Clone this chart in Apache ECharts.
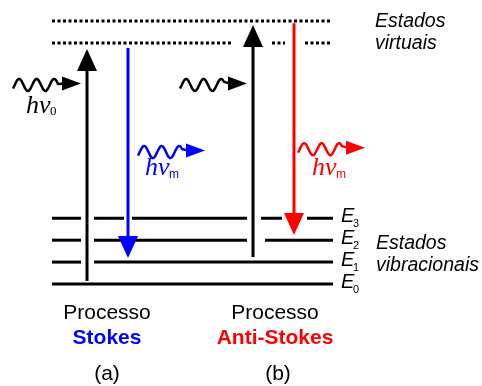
<!DOCTYPE html>
<html><head><meta charset="utf-8">
<script src="https://cdn.jsdelivr.net/npm/echarts@6/dist/echarts.min.js"></script>
<style>html,body{margin:0;padding:0;background:#fff}#c{width:482px;height:386px}</style>
</head><body><div id="c"></div>
<script>
// Vibrational levels (energy in units of the vibrational quantum)
const vibLevels = [0, 1, 2, 3];
const vibSubscripts = ['0', '1', '2', '3'];
// Virtual states
const virtualLevels = [11, 12];
// x-extents of each level line (diagram units), broken where arrows cross
const vibSegments = [
  [[52, 333]],
  [[52, 81], [94, 333]],
  [[52, 81], [94, 247], [265, 333]],
  [[52, 81], [94, 124], [132, 247], [261, 282], [307, 333]]
];
const virtualSegments = [
  [[52, 232], [272, 285], [305, 330]],
  [[52, 330]]
];
// Vertical transitions: x position, start energy, end energy
const transX = [87, 128, 253, 294];
const transFrom = [0.14, 10.77, 1.23, 11.9];
const transTo = [10.72, 1.19, 11.82, 2.24];
// Photons (wavy arrows): start x, end x, energy height
const photonX0 = [13, 180, 138, 298];
const photonX1 = [81, 247, 205, 365];
const photonE = [9.15, 9.15, 6.09, 6.22];

const BLUE = '#0000ff', RED = '#ff0000', BLACK = '#000000';
const transColor = [BLACK, BLUE, BLACK, RED];
const photonColor = [BLACK, BLACK, BLUE, RED];

const chart = echarts.init(document.getElementById('c'), null, {renderer: 'canvas'});

function levelRender(segs, dash) {
  return function (params, api) {
    const e = api.value(1);
    const children = segs[params.dataIndex].map(function (s) {
      const a = api.coord([s[0], e]), b = api.coord([s[1], e]);
      return {type: 'line', shape: {x1: a[0], y1: a[1], x2: b[0], y2: b[1]},
        style: {stroke: BLACK, lineWidth: 3, lineDash: dash, lineCap: 'butt'}};
    });
    return {type: 'group', children: children};
  };
}

function arrowRender(params, api) {
  const x = api.value(0), e0 = api.value(1), e1 = api.value(2);
  const p0 = api.coord([x, e0]), p1 = api.coord([x, e1]);
  const dir = Math.sign(p1[1] - p0[1]);
  const hl = 22, hw = 10;
  const base = p1[1] - dir * hl;
  const col = transColor[params.dataIndex];
  return {type: 'group', children: [
    {type: 'line', shape: {x1: p0[0], y1: p0[1], x2: p0[0], y2: base + dir * 2},
      style: {stroke: col, lineWidth: 3}},
    {type: 'polygon', shape: {points: [[p1[0], p1[1]], [p1[0] - hw, base], [p1[0] + hw, base]]},
      style: {fill: col}}
  ]};
}

function photonRender(params, api) {
  const x0 = api.value(0), x1 = api.value(1), e = api.value(2);
  const a = api.coord([x0, e]), b = api.coord([x1, e]);
  const col = photonColor[params.dataIndex];
  const A = 6, P = 17.5, phase = 0.1, hl = 19, hh = 7;
  const baseX = b[0] - hl;
  const cy = a[1] + 1.5;
  const waveLen = baseX - a[0] - 4;
  const pts = [];
  for (let t = 0; t <= waveLen; t += 0.5) {
    pts.push([a[0] + t, cy - A * Math.sin(2 * Math.PI * (t / P - phase))]);
  }
  pts.push([baseX + 3, b[1]]);
  return {type: 'group', children: [
    {type: 'polyline', shape: {points: pts, smooth: 0.3}, style: {stroke: col, lineWidth: 2.5, fill: null, lineJoin: 'round'}},
    {type: 'polygon', shape: {points: [[b[0], b[1]], [baseX, b[1] - hh], [baseX, b[1] + hh]]},
      style: {fill: col}}
  ]};
}

function vibLabelRender(params, api) {
  const e = api.value(1);
  const p = api.coord([341, e]);
  return {type: 'group', children: [
    {type: 'text', x: p[0], y: p[1] - 2, style: {text: 'E', fontFamily: 'Liberation Sans', fontStyle: 'italic',
      fontSize: 20, fill: BLACK, verticalAlign: 'middle', align: 'left'}},
    {type: 'text', x: p[0] + 12, y: p[1] + 6, style: {text: vibSubscripts[params.dataIndex],
      fontFamily: 'Liberation Sans', fontSize: 11, fill: BLACK, verticalAlign: 'middle', align: 'left'}}
  ]};
}

function txt(x, y, text, opts) {
  return Object.assign({type: 'text', x: x, y: y, style: Object.assign({
    text: text, fontFamily: 'Liberation Sans', fontSize: 21, fill: BLACK,
    align: 'center', verticalAlign: 'middle'}, opts || {})});
}

const option = {
  animation: false,
  backgroundColor: '#fff',
  grid: {left: 0, right: 0, top: 21, bottom: 102},
  xAxis: {type: 'value', min: 0, max: 482, show: false},
  yAxis: {type: 'value', min: 0, max: 12, show: false},
  series: [
    {type: 'custom', renderItem: levelRender(vibSegments, null),
      data: vibLevels.map(function (e) { return [52, e]; }), encode: {x: 0, y: 1}, clip: false},
    {type: 'custom', renderItem: levelRender(virtualSegments, [3, 2.5]),
      data: virtualLevels.map(function (e) { return [52, e]; }), encode: {x: 0, y: 1}, clip: false},
    {type: 'custom', renderItem: arrowRender,
      data: transX.map(function (x, i) { return [x, transFrom[i], transTo[i]]; }), encode: {x: 0, y: [1, 2]}, clip: false},
    {type: 'custom', renderItem: photonRender,
      data: photonX0.map(function (x, i) { return [x, photonX1[i], photonE[i]]; }), encode: {x: [0, 1], y: 2}, clip: false},
    {type: 'custom', renderItem: vibLabelRender,
      data: vibLevels.map(function (e) { return [341, e]; }), encode: {x: 0, y: 1}, clip: false}
  ],
  graphic: [
    txt(26, 106, 'hν', {fontFamily: 'Liberation Serif', fontStyle: 'italic', fontSize: 26, align: 'left'}),
    txt(50, 112, '0', {fontFamily: 'Liberation Serif', fontSize: 13, align: 'left'}),
    txt(145, 168, 'hν', {fontFamily: 'Liberation Serif', fontStyle: 'italic', fontSize: 26, align: 'left', fill: BLUE}),
    txt(169, 175, 'm', {fontSize: 12, align: 'left', fill: BLUE}),
    txt(312, 168, 'hν', {fontFamily: 'Liberation Serif', fontStyle: 'italic', fontSize: 26, align: 'left', fill: RED}),
    txt(336, 175, 'm', {fontSize: 12, align: 'left', fill: RED}),
    txt(375, 21.5, 'Estados', {fontStyle: 'italic', fontSize: 19.5, align: 'left'}),
    txt(375, 43.5, 'virtuais', {fontStyle: 'italic', fontSize: 19.5, align: 'left'}),
    txt(376, 243.5, 'Estados', {fontStyle: 'italic', fontSize: 19.5, align: 'left'}),
    txt(376, 265.5, 'vibracionais', {fontStyle: 'italic', fontSize: 19.5, align: 'left'}),
    txt(107, 313, 'Processo'),
    txt(107, 338, 'Stokes', {fontWeight: 'bold', fill: BLUE}),
    txt(107, 374, '(a)'),
    txt(275, 313, 'Processo'),
    txt(275, 338, 'Anti-Stokes', {fontWeight: 'bold', fill: RED}),
    txt(278, 374, '(b)')
  ]
};
chart.setOption(option);
</script>
</body></html>
